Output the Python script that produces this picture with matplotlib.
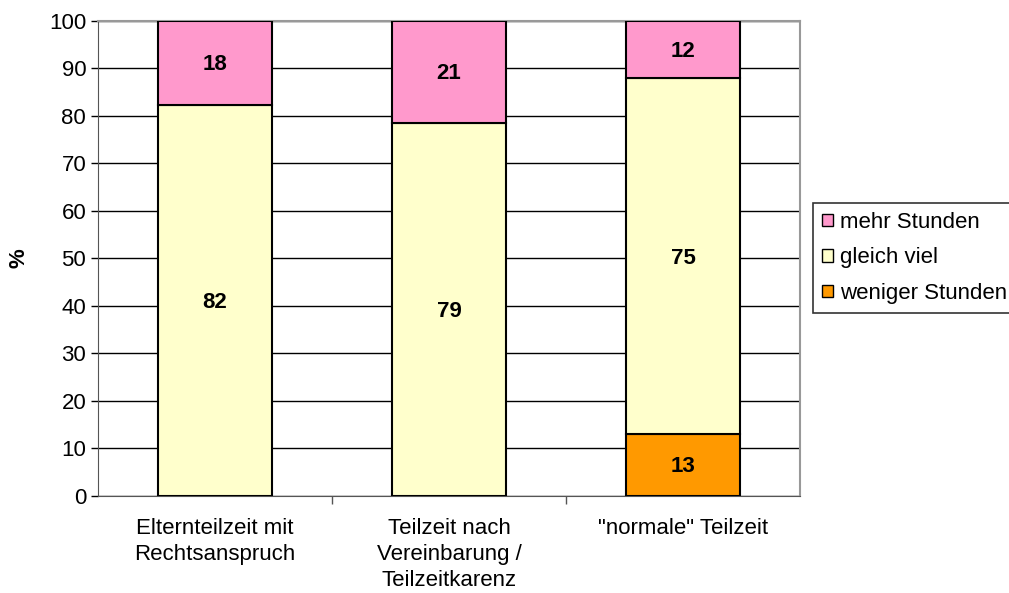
import numpy as np
import matplotlib.pyplot as plt
from matplotlib.patches import Patch

plt.rcParams['font.family'] = ['Liberation Sans', 'DejaVu Sans']

categories = ["Elternteilzeit mit\nRechtsanspruch",
              "Teilzeit nach\nVereinbarung /\nTeilzeitkarenz",
              "\"normale\" Teilzeit"]
weniger = [0, 0, 13.1]
gleich = [82.4, 78.6, 74.8]
mehr = [17.6, 21.4, 12.1]

series = [("weniger Stunden", weniger, "#FF9900"),
          ("gleich viel", gleich, "#FFFFCC"),
          ("mehr Stunden", mehr, "#FF99CC")]

fig = plt.figure(figsize=(10.09, 5.93), dpi=100)
ax = fig.add_axes([0.0971, 0.1636, 0.6958, 0.801])

x = np.arange(len(categories))
bottom = np.zeros(len(categories))
for name, vals, col in series:
    vals = np.array(vals, dtype=float)
    ax.bar(x, vals, width=0.49, bottom=bottom, color=col,
           edgecolor='black', linewidth=1.5, zorder=3)
    for xi, b, v in zip(x, bottom, vals):
        if v > 0:
            ax.text(xi, b + v / 2 - 0.4, f"{v:.0f}", ha='center', va='center',
                    fontsize=16, fontweight='bold', zorder=4)
    bottom += vals

ax.set_xlim(-0.5, len(categories) - 0.5)
ax.set_ylim(0, 100)
ax.set_yticks(np.arange(0, 101, 10))
ax.yaxis.grid(True, color='black', linewidth=1, zorder=0)
ax.tick_params(axis='y', labelsize=16, length=5, width=1, direction='out')

ax.set_xticks(x)
ax.set_xticklabels(categories, fontsize=16, linespacing=1.3)
ax.set_xticks(np.arange(0.5, len(categories) - 1, 1), minor=True)
ax.tick_params(axis='x', which='major', length=0, pad=16)
ax.tick_params(axis='x', which='minor', length=6, width=1, color='#555555')

ax.set_ylabel("%", fontsize=16, fontweight='bold', labelpad=14)

for side in ['top', 'right']:
    ax.spines[side].set_color('#999999')
    ax.spines[side].set_linewidth(1.5)
ax.spines['left'].set_color('#555555')
ax.spines['bottom'].set_color('#555555')

handles = [Patch(facecolor=col, edgecolor='black', label=name)
           for name, vals, col in reversed(series)]
leg = fig.legend(handles=handles, loc='upper left',
                 bbox_to_anchor=(0.8057, 0.6577), fontsize=16,
                 frameon=True, fancybox=False, edgecolor='black',
                 handlelength=0.5, handleheight=0.5, handletextpad=0.3,
                 labelspacing=0.65, borderpad=0.4, borderaxespad=0)
leg.get_frame().set_linewidth(1.2)

fig.savefig("out.png", dpi=100)
